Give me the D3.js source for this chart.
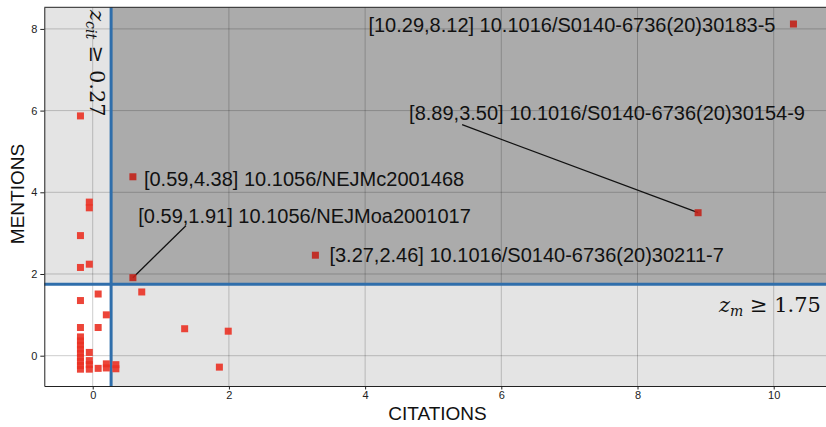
<!DOCTYPE html>
<meta charset="utf-8">
<html>
<head><title>Citations vs mentions</title></head>
<style>
body { margin: 0; background: #fff; }
text { font-family: "Liberation Sans", Arial, sans-serif; }
.tick text { font-size: 11px; fill: #222; }
</style>
<body>
<svg id="chart" width="826" height="427"></svg>
<script src="https://d3js.org/d3.v7.min.js"></script>
<script>

// z-scores of each paper: citations (x) and mentions (y)
var citations = [10.29, 8.89, 0.59, 0.59, 3.27,
  -0.18, -0.05, -0.05, -0.18, -0.18, -0.05,
  -0.18, 0.08, 0.72, 0.20, -0.18, 0.08, 1.35, 1.99, 1.86,
  -0.18, -0.18, -0.18, -0.18, -0.18, -0.18, -0.18, -0.18, -0.18,
  -0.05, -0.05, -0.05, -0.05,
  0.08, 0.20, 0.20, 0.34, 0.34];
var mentions = [8.12, 3.50, 4.38, 1.91, 2.46,
  5.87, 3.76, 3.62, 2.94, 2.16, 2.24,
  1.35, 1.51, 1.56, 1.00, 0.69, 0.69, 0.66, 0.60, -0.28,
  0.46, 0.36, 0.26, 0.16, 0.06, -0.04, -0.14, -0.24, -0.33,
  0.08, -0.12, -0.22, -0.33,
  -0.31, -0.20, -0.30, -0.22, -0.32];

// labelled papers (index into the arrays above) and their DOIs
var labelIndex = [0, 1, 2, 3, 4];
var labelDoi = ["10.1016/S0140-6736(20)30183-5",
  "10.1016/S0140-6736(20)30154-9",
  "10.1056/NEJMc2001468",
  "10.1056/NEJMoa2001017",
  "10.1016/S0140-6736(20)30211-7"];

var xTicks = [0, 2, 4, 6, 8, 10];
var yTicks = [0, 2, 4, 6, 8];
var zCit = 0.27, zM = 1.75;

// where each label sits relative to its point (px), and arrow end if any
var labelPos = [[-18, 7.5, "end"], [-289, -92.7, "start"], [11, 9, "start"],
  [5.4, -54.4, "start"], [14, 7, "start"]];
var arrowEnd = [null, [-236, -88], null, [53, -52], null];

var svg = d3.select("svg");
var pLeft = 44.3, pRight = 826, pTop = 7.3, pBottom = 386;

var x = d3.scaleLinear().domain([-0.711, 10.768]).range([pLeft, pRight]);
var y = d3.scaleLinear().domain([-0.742, 8.529]).range([pBottom, pTop]);

// quadrant shading
svg.append("rect").attr("x", pLeft).attr("y", pTop)
  .attr("width", pRight - pLeft).attr("height", pBottom - pTop).attr("fill", "#e4e4e4");
svg.append("rect").attr("x", pLeft).attr("y", y(zM))
  .attr("width", x(zCit) - pLeft).attr("height", pBottom - y(zM)).attr("fill", "#fff");
svg.append("rect").attr("x", x(zCit)).attr("y", pTop)
  .attr("width", pRight - x(zCit)).attr("height", y(zM) - pTop).attr("fill", "#ababab");

// grid
var grid = svg.append("g").attr("stroke", "#000").attr("stroke-opacity", 0.2).attr("stroke-width", 1);
grid.selectAll("line.gx").data(xTicks).enter().append("line")
  .attr("x1", d => x(d)).attr("x2", d => x(d)).attr("y1", pTop).attr("y2", pBottom);
grid.selectAll("line.gy").data(yTicks).enter().append("line")
  .attr("y1", d => y(d)).attr("y2", d => y(d)).attr("x1", pLeft).attr("x2", pRight);

// threshold lines
svg.append("line").attr("x1", x(zCit)).attr("x2", x(zCit)).attr("y1", pTop).attr("y2", pBottom)
  .attr("stroke", "#2f6eab").attr("stroke-width", 3);
svg.append("line").attr("x1", pLeft).attr("x2", pRight).attr("y1", y(zM)).attr("y2", y(zM))
  .attr("stroke", "#2f6eab").attr("stroke-width", 3);

// axes
svg.append("g").attr("transform", "translate(0," + pBottom + ")")
  .call(d3.axisBottom(x).tickValues(xTicks).tickSize(3.5).tickSizeOuter(0).tickPadding(2));
svg.append("g").attr("transform", "translate(" + pLeft + ",0)")
  .call(d3.axisLeft(y).tickValues(yTicks).tickSize(4).tickSizeOuter(0).tickPadding(3));
svg.selectAll(".domain").attr("stroke", "#222");
svg.selectAll(".tick line").attr("stroke", "#222");
svg.append("line").attr("x1", pLeft).attr("x2", pRight).attr("y1", pTop).attr("y2", pTop)
  .attr("stroke", "#222");

// annotation arrows
labelIndex.forEach(function(i, k) {
  if (!arrowEnd[k]) return;
  svg.append("line")
    .attr("x1", x(citations[i])).attr("y1", y(mentions[i]))
    .attr("x2", x(citations[i]) + arrowEnd[k][0]).attr("y2", y(mentions[i]) + arrowEnd[k][1])
    .attr("stroke", "#111").attr("stroke-width", 1.3);
});

// points
var ms = 7;
svg.append("g").selectAll("rect").data(citations).enter().append("rect")
  .attr("x", (d, i) => x(d) - ms / 2)
  .attr("y", (d, i) => y(mentions[i]) - ms / 2)
  .attr("width", ms).attr("height", ms)
  .attr("fill", (d, i) => (d >= zCit && mentions[i] >= zM) ? "#c22219" : "#ea3124")
  .attr("fill-opacity", 0.9);

// annotation texts
labelIndex.forEach(function(i, k) {
  svg.append("text")
    .attr("x", x(citations[i]) + labelPos[k][0])
    .attr("y", y(mentions[i]) + labelPos[k][1])
    .attr("text-anchor", labelPos[k][2])
    .attr("font-size", 20).attr("fill", "#111")
    .text("[" + citations[i].toFixed(2) + "," + mentions[i].toFixed(2) + "] " + labelDoi[k]);
});

// threshold texts
function thresholdLabel(g, sub, val) {
  g.style("font-family", "'DejaVu Serif', 'Liberation Serif', serif").attr("font-size", 21).attr("fill", "#111");
  g.append("tspan").attr("font-style", "italic").text("z");
  g.append("tspan").attr("font-style", "italic").attr("font-size", 14).attr("dy", 4).text(sub);
  g.append("tspan").attr("dy", -4).text(" \u2265 " + val);
}
thresholdLabel(svg.append("text").attr("transform", "translate(90,10) rotate(90)"), "cit", zCit.toFixed(2));
thresholdLabel(svg.append("text").attr("transform", "translate(821,311.5)").attr("text-anchor", "end"), "m", zM.toFixed(2));

// axis titles
svg.append("text").attr("x", 437.5).attr("y", 420).attr("text-anchor", "middle")
  .attr("font-size", 19).attr("fill", "#111").text("CITATIONS");
svg.append("text").attr("transform", "translate(24,194) rotate(-90)").attr("text-anchor", "middle")
  .attr("font-size", 19).attr("fill", "#111").text("MENTIONS");

</script>
</body>
</html>
